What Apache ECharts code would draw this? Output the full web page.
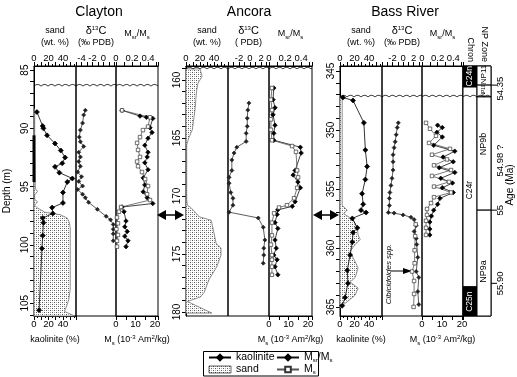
<!DOCTYPE html>
<html>
<head>
<meta charset="utf-8">
<script src="https://cdn.jsdelivr.net/npm/echarts@6/dist/echarts.min.js"></script>
<style>
html, body { margin: 0; padding: 0; background: #fff; }
#main { width: 517px; height: 377px; }
</style>
</head>
<body>
<div id="main"></div>
<script>
// depth ranges of the three cores (m)
var claytonRange = [84.65, 106.1];
var ancoraRange = [158.8, 180.35];
var bassRange = [344.58, 365.77];

var claytonDepthLabels = [85, 90, 95, 100, 105];
var ancoraDepthLabels = [160, 165, 170, 175, 180];
var bassDepthLabels = [345, 350, 355, 360, 365];

var sandLabels = [0, 20, 40];
var claytonD13CLabels = [-4, -2, 0];
var d13CLabels = [-2, 0, 2];
var msrLabels = [0, 0.2, 0.4];
var msLabels = [0, 10, 20];

// unconformities (m)
var claytonUnconf = 86.37;
var ancoraUnconf = 159.05;
var bassUnconf = 347.2;

// ---- Clayton: [depth, value]
var claytonKaolinite = [[88.6,4],[89.8,12],[90.0,13],[90.6,18],[91.3,29],[91.9,37],[92.5,43],[93.0,39],[93.3,29],[93.8,35],[94.3,53],[94.6,46],[95.5,40],[96.4,40],[96.8,25],[97.3,26],[97.7,12],[98.1,13],[99.2,12],[100.3,11],[105.6,7]];
var claytonSand = [[88.3,0],[88.6,1],[92.0,1],[95.2,2],[95.4,5],[95.7,1],[96.1,1],[96.3,5],[96.6,1],[96.8,4],[97.2,15],[97.4,36],[97.7,46],[98.1,49],[98.6,50],[103.8,50],[104.7,48],[105.1,46],[105.7,42],[106.1,56]];
var claytonD13C = [[88.45,-3.3],[88.85,-3.6],[89.55,-3.8],[90.15,-4.2],[90.75,-4.4],[91.15,-4.2],[91.55,-3.6],[92.05,-4.5],[92.45,-4.2],[92.85,-4.5],[93.25,-4.2],[93.75,-4.7],[94.15,-4.0],[94.55,-4.5],[94.95,-3.8],[95.25,-4.7],[95.65,-3.8],[95.95,-3.3],[96.35,-2.7],[96.95,-1.1],[97.55,0.5],[97.85,1.3],[98.25,1.8],[98.65,1.8],[99.05,1.8],[99.65,1.8]];
var claytonMsrMs = [[88.45,0.075],[88.95,0.30],[89.05,0.38],[89.15,0.46],[89.95,0.425],[90.35,0.45],[90.85,0.40],[91.45,0.36],[92.05,0.40],[92.45,0.39],[92.95,0.36],[93.55,0.40],[94.25,0.34],[94.85,0.36],[95.45,0.34],[95.95,0.39],[96.45,0.46],[96.75,0.075],[97.15,0.10],[97.95,0.125],[98.45,0.11],[98.85,0.14],[99.25,0.11],[99.65,0.15],[100.15,0.125]];
var claytonMs = [[88.45,3.1],[89.05,17.4],[89.85,16.4],[90.15,13.8],[90.75,12.3],[91.25,10.8],[91.85,11.3],[92.45,12.3],[92.85,10.8],[93.25,11.3],[93.75,13.3],[94.35,14.9],[94.95,16.4],[95.65,15.9],[96.15,17.4],[96.75,2.6],[97.15,1.5],[97.65,0.5],[98.15,1.0],[98.65,0.2],[99.15,1.0],[99.65,0.5],[100.15,0.5]];
var claytonCoreBar = [[90.6,0],[94.6,0]];

// ---- Ancora
var ancoraSand = [[159.05,20],[159.7,23],[160.3,17],[161.0,15],[161.7,14],[162.5,13],[163.4,11],[164.3,9],[165.0,4],[165.6,1],[170.3,1],[170.8,2],[171.0,7],[171.8,19],[172.1,36],[173.2,40],[174.1,43],[174.5,50],[175.1,50],[176.1,44],[177.2,33],[178.3,26],[178.7,21],[179.1,2],[180.1,37]];
var ancoraD13C = [[162.0,-0.2],[162.6,-0.4],[163.3,-0.5],[164.0,-0.5],[164.6,-0.7],[165.3,-0.7],[165.8,-2.4],[166.3,-2.9],[166.9,-3.3],[167.8,-3.3],[168.4,-3.8],[168.9,-3.8],[169.7,-3.5],[170.2,-3.1],[170.8,-3.1],[171.4,-3.8],[171.9,1.5],[172.7,2.4],[173.8,2.7],[174.5,2.5],[175.1,2.5],[175.8,2.4]];
var ancoraMsrMs = [[160.7,0.06],[161.7,0.05],[162.4,0.075],[163.0,0.05],[163.9,0.075],[164.6,0.06],[165.2,0.06],[165.8,0.39],[166.3,0.40],[167.8,0.325],[168.2,0.30],[168.8,0.36],[169.3,0.39],[170.5,0.325],[170.9,0.29],[171.2,0.11],[171.6,0.10],[172.3,0.075],[172.8,0.11],[173.8,0.075],[174.5,0.09],[175.1,0.06],[175.5,0.10],[176.1,0.075],[176.8,0.11]];
var ancoraMs = [[160.7,1.5],[161.7,1.0],[162.6,1.5],[163.4,1.0],[164.3,1.0],[165.2,1.5],[165.7,11.8],[166.2,13.8],[167.8,14.4],[168.4,14.9],[169.3,14.4],[170.2,12.8],[170.8,9.2],[171.0,5.1],[171.5,2.6],[172.3,1.5],[173.4,1.5],[174.2,1.0],[175.1,1.5],[175.5,1.5],[176.1,1.5],[176.8,1.5]];

// ---- Bass River
var bassKaolinite = [[347.25,4],[347.5,18],[349.4,33],[351.7,35],[353.1,37.5],[354.2,35],[355.4,30.5],[356.3,32],[356.8,29],[357.0,36],[357.5,17],[358.3,24],[358.7,18],[359.5,17],[360.6,14],[361.9,10],[363.0,11],[364.2,7],[364.9,3]];
var bassSand = [[347.2,3],[356.4,3],[356.8,10],[357.1,5],[357.6,18],[358.3,24],[358.9,25],[359.3,28],[359.7,21],[360.3,14],[360.8,18],[361.7,25],[362.5,21],[362.9,14],[363.4,25],[364.0,21],[364.7,7],[365.1,0]];
var bassD13C = [[349.4,-0.9],[349.8,-1.1],[350.4,-1.3],[351.0,-1.5],[351.5,-1.7],[352.1,-1.9],[352.7,-1.9],[353.4,-1.9],[354.1,-2.1],[354.7,-2.3],[355.3,-2.5],[355.8,-2.6],[356.4,-2.6],[357.0,-2.8],[357.05,-1.7],[357.2,0],[357.4,1.5],[357.6,2.1],[358.1,2.5],[358.6,2.1],[359.2,2.5],[359.7,2.6],[360.8,2.8],[362.0,2.5],[362.5,3.0],[363.7,2.8],[364.8,3.0]];
var bassCibicidoides = [[358.0,2.4],[359.0,2.3],[360.2,2.2],[361.3,2.2],[362.0,1.7],[362.8,2.1],[363.9,2.1],[365.0,2.0]];
var bassMsrMs = [[349.6,0.20],[349.8,0.26],[350.2,0.19],[350.6,0.26],[351.3,0.15],[351.8,0.42],[352.3,0.27],[352.7,0.40],[353.2,0.22],[353.6,0.42],[354.1,0.24],[354.5,0.39],[354.9,0.26],[355.3,0.40],[355.8,0.23],[356.3,0.20],[356.8,0.15],[357.3,0.12],[357.8,0.10],[358.4,0.10],[358.9,0.10]];
var bassMs = [[349.4,2],[349.9,4],[350.5,7],[351.1,3.5],[351.6,14],[352.1,5],[352.5,12.5],[353.0,6],[353.4,14.5],[353.9,5],[354.4,13.5],[354.8,6],[355.3,14.5],[355.7,6],[356.2,4.5],[356.7,2.5],[357.2,2.5],[357.7,2],[358.3,2],[358.9,2]];

// chrons and nannofossil zones at Bass River
var chronNames = ['C24n', 'C24r', 'C25n'];
var chronTop = [344.58, 346.36, 363.3];
var chronBase = [346.36, 363.3, 365.77];
var chronLabelDepth = [345.45, 355.1, 364.55];
var chronBlack = [1, 0, 1];

var npNames = ['NP11', 'NP10', 'NP9b', 'NP9a'];
var npTop = [344.58, 346.2, 347.2, 356.8];
var npBase = [346.2, 347.2, 356.8, 365.77];
var npLabelDepth = [345.3, 346.65, 351.2, 362.0];
var npFont = [8, 4.5, 9, 9];

var ageLabels = ['54.35', '54.98 ?', '55', '55.90'];
var ageDepth = [346.5, 352.6, 356.8, 363.0];
var ageTickDepth = [346.2, 0, 356.8, 363.0];

var FONT = '"Liberation Sans", Arial, sans-serif';

// dotted fill used for sand
var pat = document.createElement('canvas');
pat.width = 4; pat.height = 4;
var pctx = pat.getContext('2d');
pctx.fillStyle = '#fff'; pctx.fillRect(0, 0, 4, 4);
pctx.fillStyle = '#555'; pctx.fillRect(0, 0, 1, 1); pctx.fillRect(2, 2, 1, 1);
pctx.fillStyle = '#aaa'; pctx.fillRect(2, 0, 1, 1); pctx.fillRect(0, 2, 1, 1);
var sandPattern = { image: pat, repeat: 'repeat' };

var rich = {
    sup: { fontSize: 6, verticalAlign: 'top', lineHeight: 11, fontFamily: FONT },
    sub: { fontSize: 6, verticalAlign: 'bottom', lineHeight: 11, fontFamily: FONT },
    big: { fontSize: 11, lineHeight: 12, fontFamily: FONT }
};

function intTicks(r) {
    var out = [];
    for (var v = Math.ceil(r[0]); v <= Math.floor(r[1]); v++) out.push(v);
    return out;
}

function pick(labels) {
    return function (v) {
        for (var i = 0; i < labels.length; i++) {
            if (Math.abs(v - labels[i]) < 1e-6) return String(labels[i]);
        }
        return '';
    };
}

function xAxis(grid, pos, min, max, interval, labels, name, nameGap, minor) {
    return {
        type: 'value', gridIndex: grid, position: pos, min: min, max: max, interval: interval,
        axisLine: { show: true, onZero: false, lineStyle: { color: '#000', width: 1 } },
        axisTick: { show: true, length: 4, lineStyle: { color: '#000' } },
        minorTick: { show: !!minor, splitNumber: 2, length: 2, lineStyle: { color: '#000' } },
        axisLabel: { fontSize: 9.5, color: '#000', margin: 3, fontFamily: FONT, formatter: pick(labels), showMinLabel: true, showMaxLabel: true },
        splitLine: { show: false },
        minorSplitLine: { show: false },
        name: name, nameLocation: 'middle', nameGap: nameGap,
        nameMoveOverlap: false,
        nameTextStyle: { fontSize: 9, color: '#000', fontFamily: FONT, lineHeight: 12, rich: rich }
    };
}

function yAxis(grid, range, labels, show, name) {
    return {
        type: 'value', gridIndex: grid, inverse: true, min: range[0], max: range[1], show: show,
        axisLine: { show: true, onZero: false, lineStyle: { color: '#000' } },
        axisTick: { show: true, length: 4, customValues: intTicks(range), lineStyle: { color: '#000' } },
        axisLabel: { rotate: 90, fontSize: 10, color: '#000', margin: 4, fontFamily: FONT, customValues: labels },
        splitLine: { show: false },
        name: name || '', nameLocation: 'middle', nameGap: 22,
        nameTextStyle: { fontSize: 10, color: '#000', fontFamily: FONT }
    };
}

function swap(data) {
    return data.map(function (d) { return [d[1], d[0]]; });
}

function line(name, data, xi, yi, sym, size, fill, stroke, lineColor) {
    return {
        type: 'line', name: name, data: swap(data), xAxisIndex: xi, yAxisIndex: yi,
        symbol: sym, symbolSize: size, showSymbol: true, silent: true, z: 3,
        lineStyle: { color: lineColor, width: 0.8 },
        itemStyle: { color: fill, borderColor: stroke, borderWidth: 0.7 }
    };
}

function sand(data, xi, yi) {
    return {
        type: 'custom', name: 'sand', xAxisIndex: xi, yAxisIndex: yi, data: swap(data), silent: true, z: 1,
        itemStyle: { color: '#ccc' },
        renderItem: function (params, api) {
            if (params.dataIndexInside !== 0) return;
            var n = params.dataInsideLength;
            var pts = [api.coord([0, api.value(1, 0)])];
            for (var i = 0; i < n; i++) pts.push(api.coord([api.value(0, i), api.value(1, i)]));
            pts.push(api.coord([0, api.value(1, n - 1)]));
            return { type: 'polygon', shape: { points: pts }, style: { fill: sandPattern, stroke: '#777', lineWidth: 0.8 } };
        }
    };
}

function wavy(depth, xMin, xi, yi) {
    return {
        type: 'custom', xAxisIndex: xi, yAxisIndex: yi, data: [[xMin, depth]], silent: true, z: 4,
        renderItem: function (params, api) {
            var cs = params.coordSys;
            var y = api.coord([api.value(0), api.value(1)])[1];
            var pts = [];
            for (var x = 0; x <= cs.width; x += 0.5) {
                pts.push([cs.x + x, y - 1.6 * Math.abs(Math.sin(x / 7 * Math.PI))]);
            }
            return { type: 'polyline', shape: { points: pts }, style: { stroke: '#000', lineWidth: 0.9, fill: null } };
        }
    };
}

var grids = [
    [34, 42], [76, 40], [116, 42],
    [186, 42], [228, 41], [269, 43],
    [340, 42], [382, 40], [422, 41], [463, 28]
].map(function (g) {
    return { left: g[0], top: 66, width: g[1], height: 250, show: true, borderColor: '#000', borderWidth: 1, outerBoundsMode: 'none', containLabel: false };
});

var d13CName = '{big|δ}{sup|13}{big|C}\n(‰ PDB)';
var msrName = 'M{sub|sr}/M{sub|s}';
var msName = 'M{sub|s} (10{sup|-3} Am{sup|2}/kg)';

var xAxes = [
    xAxis(0, 'top', 0, 58, 10, sandLabels, 'sand\n(wt. %)', 17, true),
    xAxis(0, 'bottom', 0, 58, 10, sandLabels, 'kaolinite (%)', 18, true),
    xAxis(1, 'top', -5, 2.3, 1, claytonD13CLabels, d13CName, 17, false),
    xAxis(2, 'top', 0, 0.525, 0.1, msrLabels, msrName, 26, false),
    xAxis(2, 'bottom', 0, 21.5, 5, msLabels, msName, 18, false),
    xAxis(3, 'top', 0, 60, 10, sandLabels, 'sand\n(wt. %)', 17, true),
    xAxis(4, 'top', -4, 3.45, 1, d13CLabels, '{big|δ}{sup|13}{big|C}\n( PDB)', 17, false),
    xAxis(5, 'top', 0, 0.535, 0.1, msrLabels, msrName, 26, false),
    xAxis(5, 'bottom', 0, 22, 5, msLabels, msName, 18, false),
    xAxis(6, 'top', 0, 58, 10, sandLabels, 'sand\n(wt. %)', 17, true),
    xAxis(6, 'bottom', 0, 58, 10, sandLabels, 'kaolinite (%)', 18, true),
    xAxis(7, 'top', -4, 3.6, 1, d13CLabels, d13CName, 17, false),
    xAxis(8, 'top', 0, 0.525, 0.1, msrLabels, msrName, 26, false),
    xAxis(8, 'bottom', 0, 20.5, 5, msLabels, msName, 18, false),
    { type: 'value', gridIndex: 9, position: 'bottom', min: 0, max: 2, show: false },
    {
        type: 'category', gridIndex: 9, position: 'top', data: ['Chron', 'NP Zone'],
        axisLine: { show: false }, axisTick: { show: false }, splitLine: { show: false },
        axisLabel: { rotate: 90, fontSize: 9, color: '#000', margin: 4, fontFamily: FONT, interval: 0 }
    }
];

var yAxes = [
    yAxis(0, claytonRange, claytonDepthLabels, true, 'Depth (m)'),
    yAxis(1, claytonRange, [], false),
    yAxis(2, claytonRange, [], false),
    yAxis(3, ancoraRange, ancoraDepthLabels, true),
    yAxis(4, ancoraRange, [], false),
    yAxis(5, ancoraRange, [], false),
    yAxis(6, bassRange, bassDepthLabels, true),
    yAxis(7, bassRange, [], false),
    yAxis(8, bassRange, [], false),
    yAxis(9, bassRange, [], false)
];

var series = [
    // Clayton
    sand(claytonSand, 0, 0),
    line('kaolinite', claytonKaolinite, 1, 0, 'diamond', 5, '#000', '#000', '#000'),
    {
        type: 'line', data: swap(claytonCoreBar), xAxisIndex: 0, yAxisIndex: 0, symbol: 'none',
        clip: false, silent: true, lineStyle: { color: '#000', width: 3 }
    },
    line('d13C', claytonD13C, 2, 1, 'diamond', 4, '#222', '#222', '#333'),
    line('Msr/Ms', claytonMsrMs, 3, 2, 'diamond', 4.5, '#000', '#000', '#111'),
    line('Ms', claytonMs, 4, 2, 'rect', 3.5, '#fff', '#333', '#555'),
    // Ancora
    sand(ancoraSand, 5, 3),
    line('d13C', ancoraD13C, 6, 4, 'diamond', 4, '#222', '#222', '#333'),
    line('Msr/Ms', ancoraMsrMs, 7, 5, 'diamond', 4.5, '#000', '#000', '#111'),
    line('Ms', ancoraMs, 8, 5, 'rect', 3.5, '#fff', '#333', '#555'),
    // Bass River
    sand(bassSand, 9, 6),
    line('kaolinite', bassKaolinite, 10, 6, 'diamond', 5, '#000', '#000', '#000'),
    line('d13C', bassD13C, 11, 7, 'diamond', 4, '#222', '#222', '#333'),
    line('Cibicidoides', bassCibicidoides, 11, 7, 'rect', 3.5, '#fff', '#333', '#555'),
    line('Msr/Ms', bassMsrMs, 12, 8, 'diamond', 4.5, '#000', '#000', '#111'),
    line('Ms', bassMs, 13, 8, 'rect', 3.5, '#fff', '#333', '#555'),
    {
        type: 'custom', xAxisIndex: 14, yAxisIndex: 9, silent: true, z: 2,
        data: chronNames.map(function (n, i) { return [chronTop[i], chronBase[i], chronLabelDepth[i], chronBlack[i]]; }),
        renderItem: function (params, api) {
            var p0 = api.coord([0, api.value(0)]);
            var p1 = api.coord([1, api.value(1)]);
            var pc = api.coord([0.5, api.value(2)]);
            var black = api.value(3) === 1;
            return {
                type: 'group', children: [
                    { type: 'rect', shape: { x: p0[0], y: p0[1], width: p1[0] - p0[0], height: p1[1] - p0[1] }, style: { fill: black ? '#000' : '#fff', stroke: '#000', lineWidth: 1 } },
                    { type: 'text', x: pc[0], y: pc[1], rotation: Math.PI / 2, style: { text: chronNames[params.dataIndex], fill: black ? '#fff' : '#000', fontSize: 8.5, fontFamily: FONT, align: 'center', verticalAlign: 'middle' } }
                ]
            };
        }
    },
    {
        type: 'custom', xAxisIndex: 14, yAxisIndex: 9, silent: true, z: 2,
        data: npNames.map(function (n, i) { return [npTop[i], npBase[i], npLabelDepth[i], npFont[i]]; }),
        renderItem: function (params, api) {
            var p0 = api.coord([1, api.value(0)]);
            var p1 = api.coord([2, api.value(1)]);
            var pc = api.coord([1.5, api.value(2)]);
            return {
                type: 'group', children: [
                    { type: 'rect', shape: { x: p0[0], y: p0[1], width: p1[0] - p0[0], height: p1[1] - p0[1] }, style: { fill: '#fff', stroke: '#000', lineWidth: 1 } },
                    { type: 'text', x: pc[0], y: pc[1], rotation: Math.PI / 2, style: { text: npNames[params.dataIndex], fill: '#000', fontSize: api.value(3), fontFamily: FONT, align: 'center', verticalAlign: 'middle' } }
                ]
            };
        }
    },
    {
        type: 'custom', xAxisIndex: 14, yAxisIndex: 9, silent: true, z: 2,
        data: ageLabels.map(function (n, i) { return [ageDepth[i], ageTickDepth[i]]; }),
        renderItem: function (params, api) {
            var p = api.coord([2, api.value(0)]);
            var children = [
                { type: 'text', x: p[0] + 9, y: p[1], rotation: Math.PI / 2, style: { text: ageLabels[params.dataIndex], fill: '#000', fontSize: 9.5, fontFamily: FONT, align: 'center', verticalAlign: 'middle' } }
            ];
            if (api.value(1) > 0) {
                var t = api.coord([2, api.value(1)]);
                children.push({ type: 'line', shape: { x1: t[0], y1: t[1], x2: t[0] + 6, y2: t[1] }, style: { stroke: '#000', lineWidth: 1 } });
            }
            return { type: 'group', children: children };
        }
    }
];

var unconfAxes = [
    [claytonUnconf, 0, 0, 0], [claytonUnconf, -5, 2, 1], [claytonUnconf, 0, 3, 2],
    [ancoraUnconf, 0, 5, 3], [ancoraUnconf, -4, 6, 4], [ancoraUnconf, 0, 7, 5],
    [bassUnconf, 0, 9, 6], [bassUnconf, -4, 11, 7], [bassUnconf, 0, 12, 8], [bassUnconf, 0, 14, 9]
];
unconfAxes.forEach(function (u) { series.push(wavy(u[0], u[1], u[2], u[3])); });

function arrow(x1, x2, y) {
    return {
        type: 'group', children: [
            { type: 'polygon', shape: { points: [[x1, y], [x1 + 9, y - 5], [x1 + 9, y + 5]] }, style: { fill: '#000' } },
            { type: 'polygon', shape: { points: [[x2, y], [x2 - 9, y - 5], [x2 - 9, y + 5]] }, style: { fill: '#000' } },
            { type: 'line', shape: { x1: x1 + 8, y1: y, x2: x2 - 8, y2: y }, style: { stroke: '#000', lineWidth: 1.5 } }
        ]
    };
}

var legendText = { fontSize: 10.5, color: '#000', fontFamily: FONT, lineHeight: 11, rich: rich };

var option = {
    animation: false,
    backgroundColor: '#fff',
    textStyle: { fontFamily: FONT, color: '#000' },
    grid: grids,
    xAxis: xAxes,
    yAxis: yAxes,
    legend: [
        {
            left: 208, top: 352, orient: 'vertical', padding: 0, itemGap: 1, itemWidth: 22, itemHeight: 7, selectedMode: false,
            textStyle: legendText,
            data: ['kaolinite', { name: 'sand', icon: 'rect', itemStyle: { color: sandPattern, borderColor: '#000', borderWidth: 0.6 } }]
        },
        {
            left: 276, top: 352, orient: 'vertical', padding: 0, itemGap: 1, itemWidth: 22, itemHeight: 7, selectedMode: false,
            textStyle: legendText,
            formatter: function (n) { return n === 'Msr/Ms' ? 'M{sub|sr}/M{sub|s}' : 'M{sub|s}'; },
            data: ['Msr/Ms', 'Ms']
        }
    ],
    graphic: [
        { type: 'text', x: 99, y: 12, style: { text: 'Clayton', fontSize: 14, fontFamily: FONT, fill: '#000', align: 'center', verticalAlign: 'middle' } },
        { type: 'text', x: 249, y: 12, style: { text: 'Ancora', fontSize: 14, fontFamily: FONT, fill: '#000', align: 'center', verticalAlign: 'middle' } },
        { type: 'text', x: 405, y: 12, style: { text: 'Bass River', fontSize: 14, fontFamily: FONT, fill: '#000', align: 'center', verticalAlign: 'middle' } },
        { type: 'text', x: 510, y: 185, rotation: Math.PI / 2, style: { text: 'Age (Ma)', fontSize: 10, fontFamily: FONT, fill: '#000', align: 'center', verticalAlign: 'middle' } },
        { type: 'text', x: 389, y: 274, rotation: Math.PI / 2, style: { text: 'Cibicidoides spp.', fontSize: 8, fontStyle: 'italic', fontFamily: FONT, fill: '#000', align: 'center', verticalAlign: 'middle' } },
        { type: 'line', shape: { x1: 391, y1: 271, x2: 404, y2: 271 }, style: { stroke: '#000', lineWidth: 1 } },
        { type: 'polygon', shape: { points: [[412, 271], [403, 268], [403, 274]] }, style: { fill: '#000' } },
        arrow(157, 184, 215),
        arrow(313, 339, 215),
        { type: 'rect', shape: { x: 203.5, y: 351.5, width: 115, height: 24.5 }, style: { fill: null, stroke: '#000', lineWidth: 1 } }
    ],
    series: series
};

var chart = echarts.init(document.getElementById('main'));
chart.setOption(option);
</script>
</body>
</html>
